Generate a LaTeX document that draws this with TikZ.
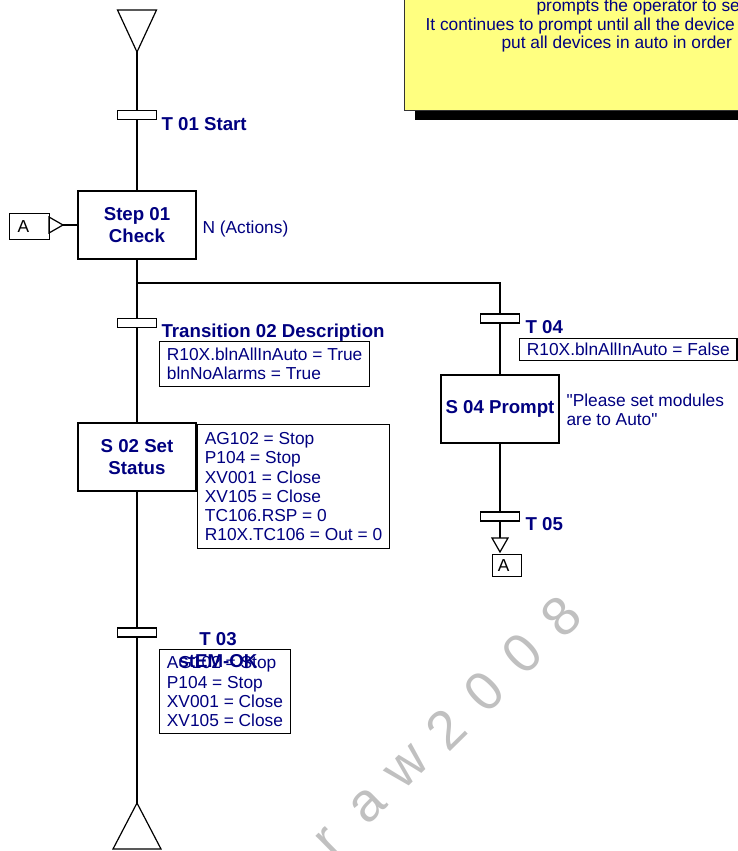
\documentclass[tikz,border=0pt]{standalone}
\usepackage{fontspec}
\setmainfont{Liberation Sans}
\usepackage{tikz}
\usetikzlibrary{positioning, calc, shadows}
\definecolor{sfcText}{HTML}{000080}
\definecolor{noteFill}{HTML}{FFFF80}
\definecolor{noteLine}{HTML}{333333}
\definecolor{wmGray}{HTML}{C0C0C0}

\begin{document}
\begin{tikzpicture}[x=0.75pt, y=-0.75pt, line width=0.9pt,
  stepbox/.style={draw, fill=white, minimum width=88.5pt, minimum height=51pt, inner sep=0pt, align=center, font=\fontsize{14}{16}\selectfont\bfseries, text=sfcText},
  trans/.style={draw, fill=white, minimum width=29.25pt, minimum height=6.75pt, inner sep=0pt},
  tlbl/.style={inner sep=0pt, font=\fontsize{14}{17}\selectfont\bfseries, text=sfcText},
  cond/.style={draw, fill=white, align=left, inner xsep=5.5pt, inner ysep=0pt, font=\fontsize{13}{14.3}\selectfont, text=sfcText},
  act/.style={inner sep=0pt, align=left, font=\fontsize{13}{14.3}\selectfont, text=sfcText},
  jbox/.style={draw, align=left, inner ysep=0pt, font=\fontsize{13}{14.3}\selectfont},
  wm/.style={inner sep=0pt, rotate=44.5, font=\fontsize{41}{41}\selectfont, text=wmGray}]
\useasboundingbox (0,0) rectangle (738,851);
\clip (0,0) rectangle (738,851);

\node[draw=noteLine, fill=noteFill, minimum width=267pt, minimum height=98.25pt, anchor=south west, drop shadow={shadow xshift=7.5pt, shadow yshift=-7.5pt, fill=black, opacity=1}] (note) at (404,111) {};
\node[act, anchor=base west] (note1) at (536,11.5) {prompts the operator to se};
\node[act, anchor=base west] (note2) at (425,30) {It continues to prompt until all the device};
\node[act, anchor=base west] (note3) at (501,48) {put all devices in auto in order};

\foreach \ch [count=\i from 0] in {r,a,w,2,0,0,8}
  \node[wm] (wm\i) at ($(330,843)+(-44.5:54*\i)$) {\ch};

\coordinate (init) at (137,52);
\draw (init) -- ++(-19.5,-42) -- ++(39,0) -- cycle;
\node[trans] (t01) at (137,115) {};
\node[tlbl, anchor=base west] (t01lbl) at (161,130) {T 01 Start};
\node[stepbox] (s01) at (137,225) {Step 01\\Check};
\node[act, anchor=base west] (s01act) at (202,233) {N (Actions)};
\node[jbox, text width=18pt, inner xsep=6pt, minimum height=19.5pt, anchor=north west] (jmpIn) at (9,213) {A};
\coordinate (entry) at (63,225);
\draw (entry) -- ++(-14,-8) -- ++(0,16) -- cycle;
\draw (entry) -- (entry -| s01.west);

\coordinate (split) at (137,283);
\node[trans] (t02) at (137,323) {};
\node[tlbl, anchor=base west] (t02lbl) at (161,337) {Transition 02 Description};
\node[cond, minimum height=33.75pt, anchor=north west] (t02cond) at (159,341) {R10X.blnAllInAuto = True\\blnNoAlarms = True};
\node[stepbox] (s02) at (137,457) {S 02 Set\\Status};
\node[cond, minimum height=93pt, anchor=north west] (s02act) at (197,424) {AG102 = Stop\\P104 = Stop\\XV001 = Close\\XV105 = Close\\TC106.RSP = 0\\R10X.TC106 = Out = 0};
\node[trans] (t03) at (137,632.5) {};
\node[cond, minimum height=63pt, anchor=north west] (t03cond) at (159,649) {AG102 = Stop\\P104 = Stop\\XV001 = Close\\XV105 = Close};
\node[tlbl, align=center] (t03lbl) at (218,650) {T 03\\stEM-OK};
\coordinate (final) at (137,803);
\draw (final) -- ++(-24,46) -- ++(48,0) -- cycle;
\draw (init) -- (t01) -- (s01) -- (t02) -- (s02) -- (t03) -- (final);

\node[trans] (t04) at (500,318.5) {};
\node[tlbl, anchor=base west] (t04lbl) at (525,333) {T 04};
\node[cond, minimum height=16.5pt, anchor=north west] (t04cond) at (519,338) {R10X.blnAllInAuto = False};
\node[stepbox] (s04) at (500,409) {S 04 Prompt};
\node[act, anchor=west] (s04act) at (566,409.5) {\textquotedbl Please set modules\\are to Auto\textquotedbl};
\node[trans] (t05) at (500,516.5) {};
\node[tlbl, anchor=base west] (t05lbl) at (525,530) {T 05};
\coordinate (jmpTop) at (500,538);
\draw ([xshift=-6pt]jmpTop) -- ([xshift=6pt]jmpTop) -- ([yshift=-10.5pt]jmpTop) -- cycle;
\node[jbox, text width=13.75pt, inner xsep=4pt, minimum height=16.5pt, anchor=north west] (jmpOut) at (492,554) {A};
\draw (split) -| (t04);
\draw (t04) -- (s04) -- (t05) -- (jmpTop);
\end{tikzpicture}
\end{document}
